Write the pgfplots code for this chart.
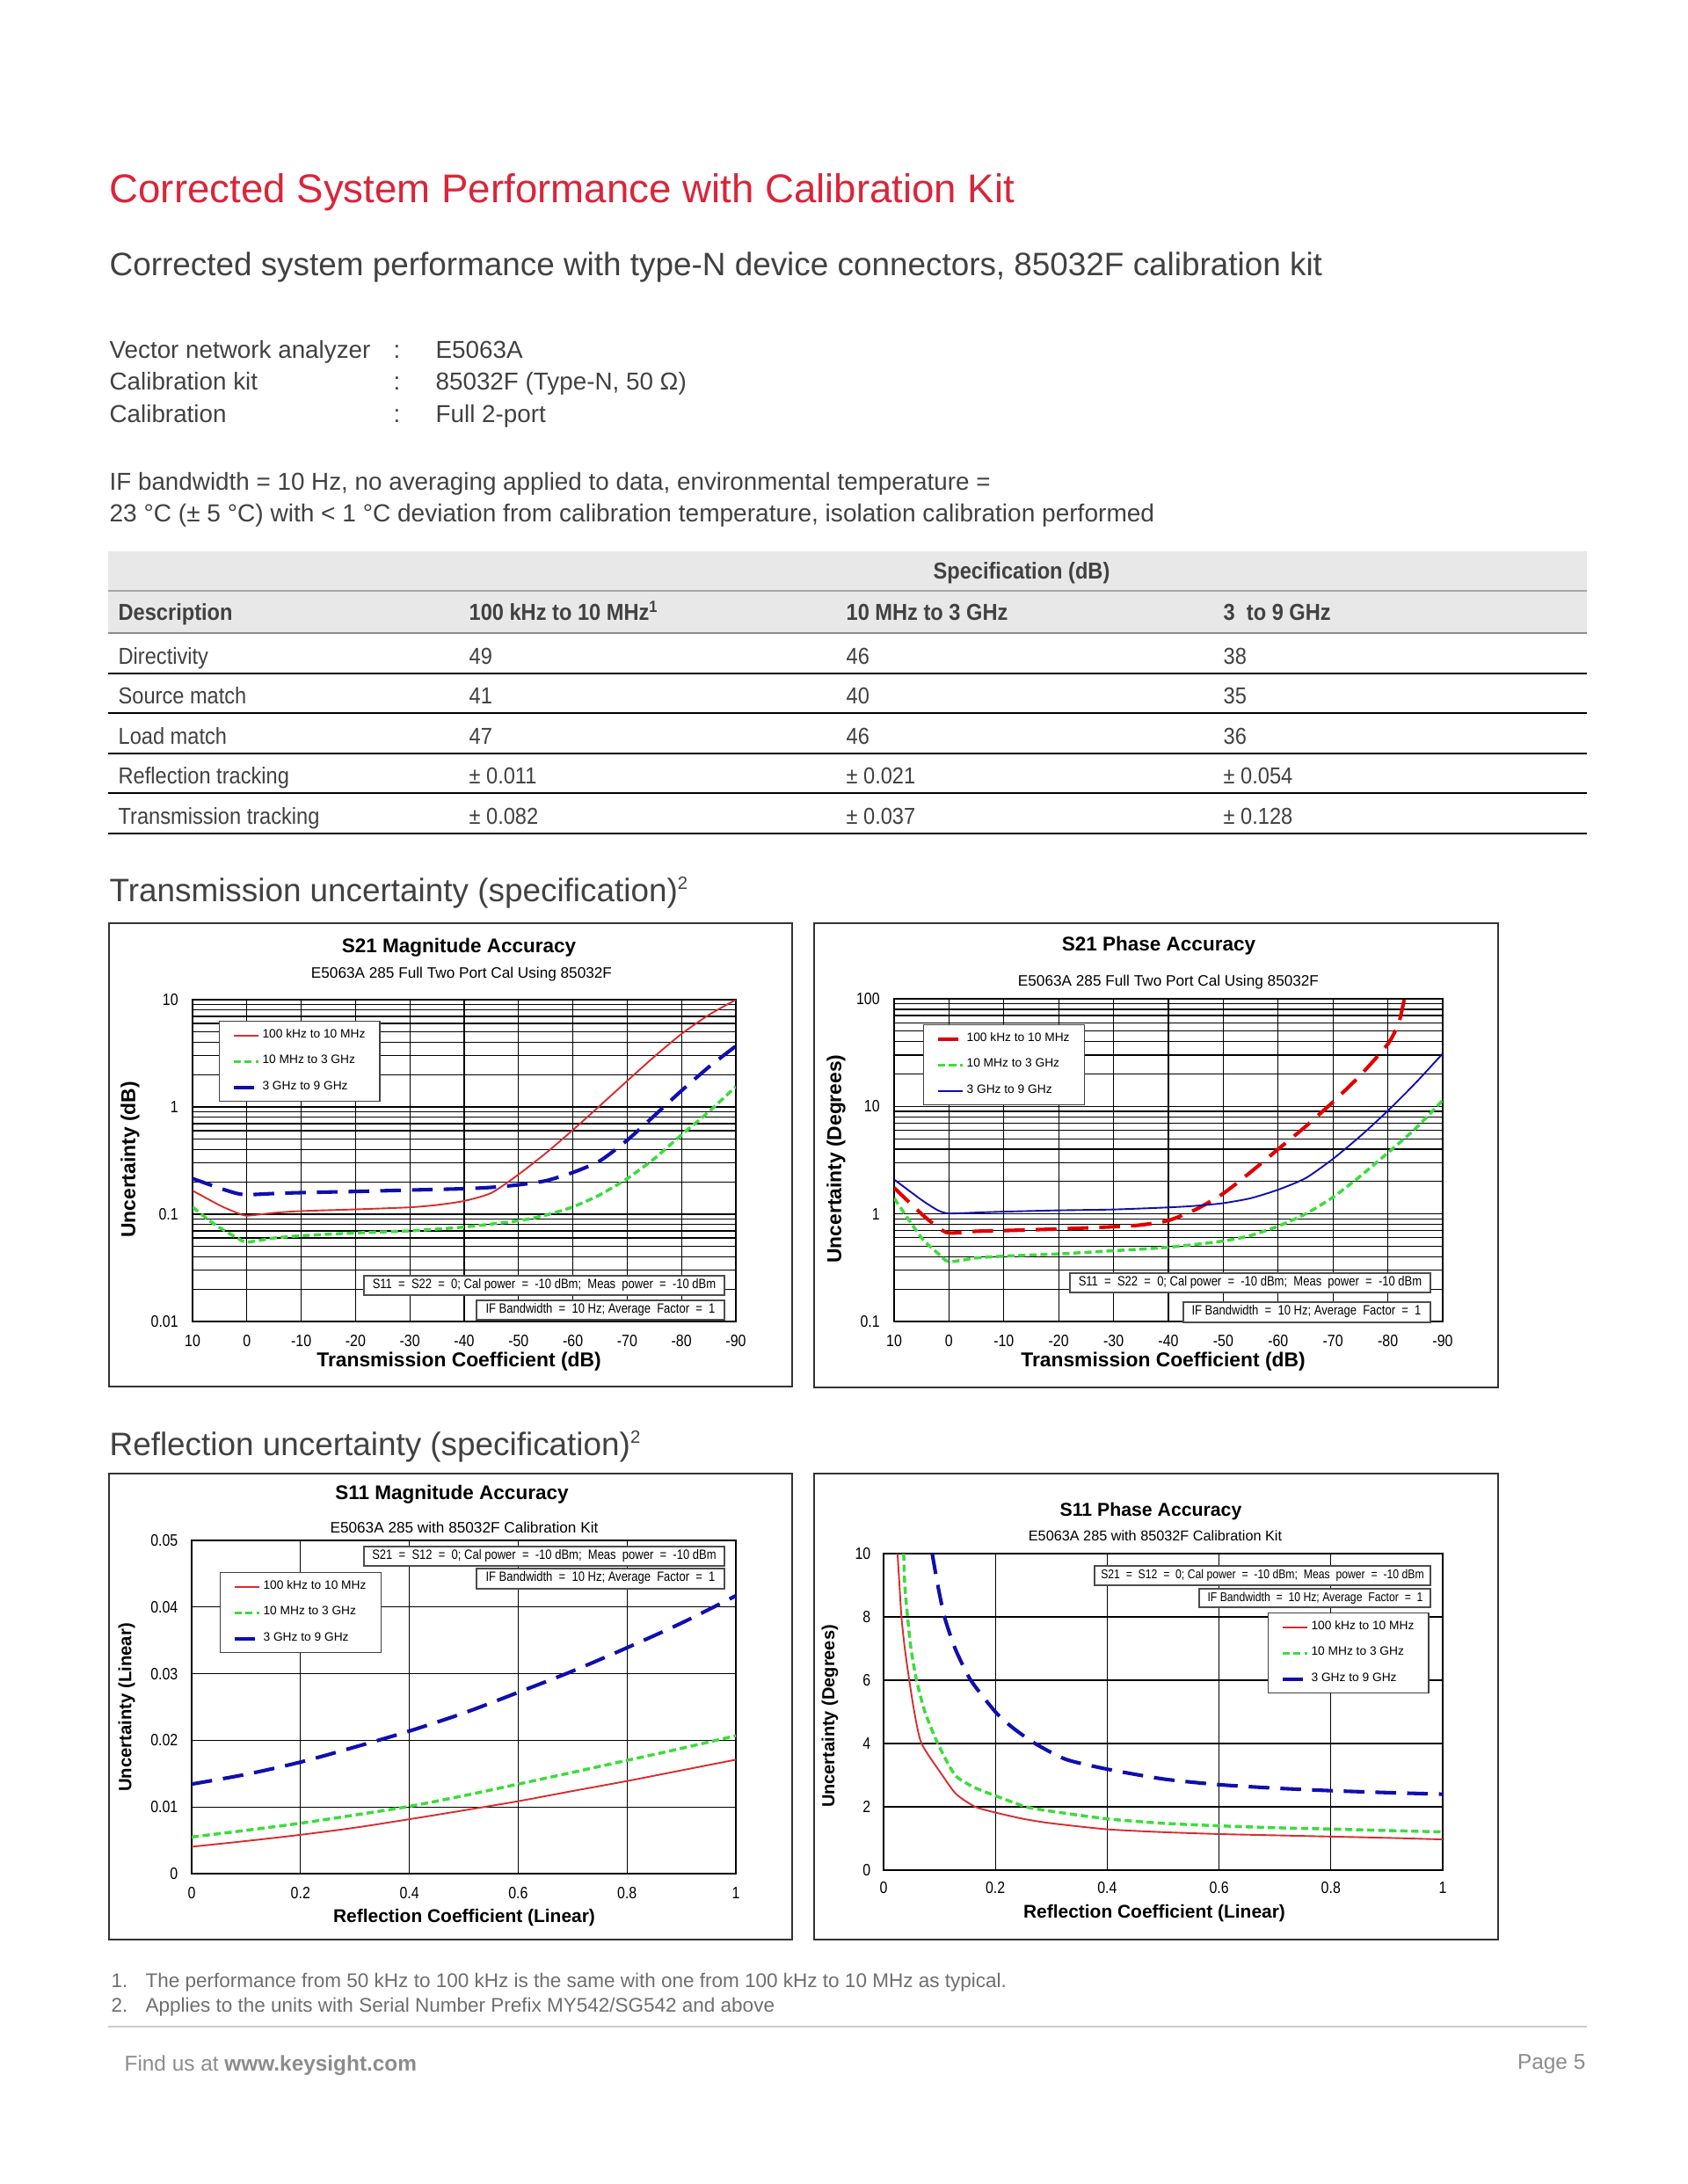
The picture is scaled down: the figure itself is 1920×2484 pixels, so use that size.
\documentclass[border=0pt]{standalone}
\usepackage{fontspec}
\usepackage{pgfplots}
\pgfplotsset{compat=1.18}
\setmainfont{Liberation Sans}
\newfontfamily\chartfont{Liberation Sans}
\newfontfamily\chartnarrow[FakeStretch=0.85]{Liberation Sans}
\newfontfamily\pagecond[FakeStretch=0.9]{Liberation Sans}
\definecolor{ksred}{RGB}{218,37,58}
\definecolor{cred}{RGB}{215,45,45}
\definecolor{cgreen}{RGB}{60,220,60}
\definecolor{cblue}{RGB}{15,15,175}
\definecolor{bodygray}{RGB}{65,65,65}
\definecolor{notegray}{RGB}{110,110,110}
\newcommand{\fs}[1]{\fontsize{#1}{#1}\selectfont}

\pgfplotsset{
  redsolid/.style={cred, line width=0.6bp},
  greendash/.style={cgreen, line width=1.1bp, dash pattern=on 2.6bp off 1.4bp},
  bluedash/.style={cblue, line width=1.3bp, dash pattern=on 7.5bp off 4bp},
  reddash/.style={red!88!black, line width=1.3bp, dash pattern=on 7.5bp off 4bp},
  bluesolid/.style={cblue, line width=0.6bp},
  chartaxis/.style={
    scale only axis,
    anchor=south west,
    axis line style={black, line width=0.5bp},
    major grid style={black, line width=0.4bp},
    minor grid style={black, line width=0.4bp},
    tick style={draw=none},
    major tick length=0pt, minor tick length=0pt,
    scaled ticks=false,
    ticklabel style={font=\chartnarrow\fs{6}, inner sep=0pt},
    legend cell align=left,
    legend style={draw=black!75, line width=0.4bp, font=\chartfont\fs{4.4},
      inner xsep=4.5bp, inner ysep=2bp, row sep=3.2bp,
      nodes={inner sep=0.8bp}},
    legend image code/.code={\draw[##1] (0bp,0bp) -- (9bp,0bp);},
  },
  xlabshift/.style={xticklabel style={anchor=center, yshift=#1}},
  ylabshift/.style={yticklabel style={anchor=east, xshift=#1}},
}

\begin{document}
\begin{tikzpicture}
\begin{scope}[x=0.31875bp,y=-0.31875bp]
\path[use as bounding box, fill=white] (0,0) rectangle (1920,2484);
% header
\node[anchor=base west, inner sep=0, text=ksred, font=\fs{14.6}] at (124,230) {Corrected System Performance with Calibration Kit};
\node[anchor=base west, inner sep=0, text=bodygray, font=\fs{11.8}] at (124,313) {Corrected system performance with type-N device connectors, 85032F calibration kit};
\begin{scope}[every node/.style={anchor=base west, inner sep=0, text=bodygray, font=\fs{8.9}}]
\node at (124,407) {Vector network analyzer};
\node at (124,443) {Calibration kit};
\node at (124,480) {Calibration};
\node at (447,407) {:};
\node at (447,443) {:};
\node at (447,480) {:};
\node at (495,407) {E5063A};
\node at (495,443) {85032F (Type-N, 50 Ω)};
\node at (495,480) {Full 2-port};
\node at (124,557) {IF bandwidth = 10 Hz, no averaging applied to data, environmental temperature =};
\node[font=\fs{8.98}] at (124,593) {23 °C (± 5 °C) with < 1 °C deviation from calibration temperature, isolation calibration performed};
\end{scope}
% table
\fill[black!9] (123,627) rectangle (1805,720);
\draw[black!35, line width=0.7bp] (123,672) -- (1805,672);
\draw[black!45, line width=0.8bp] (123,720) -- (1805,720);
\foreach \yy in {766,811,857,902,948} \draw[black, line width=0.6bp] (123,\yy) -- (1805,\yy);
\begin{scope}[every node/.style={inner sep=0, text=bodygray, font=\pagecond\bfseries\fs{8.4}}]
\node[anchor=base] at (1162,658) {Specification (dB)};
\node[anchor=base west] at (134,705) {Description};
\node[anchor=base west] at (533,705) {100 kHz to 10 MHz\textsuperscript{1}};
\node[anchor=base west] at (962,705) {10 MHz to 3 GHz};
\node[anchor=base west] at (1391,705) {3~ to 9 GHz};
\end{scope}
\begin{scope}[every node/.style={anchor=base west, inner sep=0, text=bodygray, font=\pagecond\fs{8.4}}]
\node at (134,755) {Directivity};      \node at (533,755) {49}; \node at (962,755) {46}; \node at (1391,755) {38};
\node at (134,800) {Source match};     \node at (533,800) {41}; \node at (962,800) {40}; \node at (1391,800) {35};
\node at (134,846) {Load match};       \node at (533,846) {47}; \node at (962,846) {46}; \node at (1391,846) {36};
\node at (134,891) {Reflection tracking};   \node at (533,891) {± 0.011}; \node at (962,891) {± 0.021}; \node at (1391,891) {± 0.054};
\node at (134,937) {Transmission tracking}; \node at (533,937) {± 0.082}; \node at (962,937) {± 0.037}; \node at (1391,937) {± 0.128};
\end{scope}
% section headers
\node[anchor=base west, inner sep=0, text=bodygray, font=\fs{11.8}] at (124,1025) {Transmission uncertainty (specification)\textsuperscript{\fs{6.5}2}};
\node[anchor=base west, inner sep=0, text=bodygray, font=\fs{11.8}] at (124,1655) {Reflection uncertainty (specification)\textsuperscript{\fs{6.5}2}};
% chart frames
\draw[black!80, line width=0.6bp] (124,1050) rectangle (901,1577);
\draw[black!80, line width=0.6bp] (926,1050) rectangle (1704,1578);
\draw[black!80, line width=0.6bp] (124,1676) rectangle (901,2206);
\draw[black!80, line width=0.6bp] (926,1676) rectangle (1704,2206);
% footnotes and footer
\begin{scope}[every node/.style={anchor=base west, inner sep=0, text=notegray, font=\fs{7.2}}]
\node at (126,2260) {1.};
\node at (165,2260) {The performance from 50 kHz to 100 kHz is the same with one from 100 kHz to 10 MHz as typical.};
\node at (126,2288) {2.};
\node at (165,2288) {Applies to the units with Serial Number Prefix MY542/SG542 and above};
\end{scope}
\draw[black!20, line width=0.7bp] (123,2305) -- (1805,2305);
\node[anchor=base west, inner sep=0, text=black!45, font=\fs{7.8}] at (141,2355) {Find us at \textbf{www.keysight.com}};
\node[anchor=base east, inner sep=0, text=black!45, font=\fs{7.8}] at (1804,2353) {Page 5};
\end{scope}

% ---------------- Chart 1: S21 magnitude
\begin{axis}[chartaxis, xlabshift=-7bp, ylabshift=-5bp,
  at={(69.81bp,-479.08bp)}, width=196.99bp, height=116.66bp,
  ymode=log, xmin=-90, xmax=10, x dir=reverse, ymin=0.01, ymax=10,
  xtick={10,0,-10,-20,-30,-40,-50,-60,-70,-80,-90},
  xticklabels={10,0,-10,-20,-30,-40,-50,-60,-70,-80,-90},
  ytick={0.01,0.1,1,10}, yticklabels={0.01,0.1,1,10},
  minor ytick={0.02,0.03,0.04,0.05,0.06,0.07,0.08,0.09,0.2,0.3,0.4,0.5,0.6,0.7,0.8,0.9,2,3,4,5,6,7,8,9},
  xmajorgrids, ymajorgrids, yminorgrids,
  legend style={at={(0.0485,0.934)}, anchor=north west}]
\addplot[redsolid, smooth, tension=0.4] coordinates {(10,0.166) (5,0.121) (2,0.104) (0,0.097) (-5,0.103) (-10,0.107) (-20,0.111) (-30,0.116) (-35,0.122) (-40,0.133) (-45,0.158) (-50,0.235) (-55,0.37) (-60,0.61) (-65,1.03) (-70,1.75) (-75,2.95) (-80,4.8) (-85,7.2) (-90,10)};
\addlegendentry{100 kHz to 10 MHz}
\addplot[greendash, smooth, tension=0.4] coordinates {(10,0.117) (7,0.088) (5,0.075) (2,0.061) (0,0.055) (-5,0.06) (-10,0.063) (-20,0.067) (-30,0.070) (-40,0.076) (-50,0.087) (-55,0.098) (-60,0.117) (-65,0.152) (-70,0.215) (-75,0.33) (-80,0.55) (-85,0.9) (-90,1.55)};
\addlegendentry{10 MHz to 3 GHz}
\addplot[bluedash, smooth, tension=0.4] coordinates {(10,0.215) (5,0.175) (2,0.157) (0,0.152) (-5,0.156) (-10,0.159) (-20,0.163) (-30,0.168) (-40,0.173) (-45,0.178) (-50,0.188) (-55,0.205) (-60,0.245) (-65,0.315) (-70,0.49) (-75,0.83) (-80,1.42) (-85,2.35) (-90,3.7)};
\addlegendentry{3 GHz to 9 GHz}
\end{axis}

% ---------------- Chart 2: S21 phase
\begin{axis}[chartaxis, xlabshift=-7bp, ylabshift=-5bp,
  at={(324.17bp,-479.08bp)}, width=198.90bp, height=116.98bp,
  ymode=log, xmin=-90, xmax=10, x dir=reverse, ymin=0.1, ymax=100,
  xtick={10,0,-10,-20,-30,-40,-50,-60,-70,-80,-90},
  xticklabels={10,0,-10,-20,-30,-40,-50,-60,-70,-80,-90},
  ytick={0.1,1,10,100}, yticklabels={0.1,1,10,100},
  minor ytick={0.2,0.3,0.4,0.5,0.6,0.7,0.8,0.9,2,3,4,5,6,7,8,9,20,30,40,50,60,70,80,90},
  xmajorgrids, ymajorgrids, yminorgrids,
  legend style={at={(0.053,0.921)}, anchor=north west}]
\addplot[reddash, smooth, tension=0.4] coordinates {(10,1.75) (5,1.0) (2,0.75) (0,0.665) (-5,0.69) (-10,0.70) (-20,0.725) (-30,0.76) (-35,0.79) (-40,0.87) (-45,1.1) (-50,1.55) (-55,2.45) (-60,4.0) (-65,6.5) (-70,11) (-75,19.5) (-80,38) (-82,60) (-83,100)};
\addlegendentry{100 kHz to 10 MHz}
\addplot[greendash, smooth, tension=0.4] coordinates {(10,1.4) (5,0.6) (2,0.43) (0,0.36) (-5,0.39) (-10,0.405) (-20,0.425) (-30,0.455) (-40,0.49) (-50,0.56) (-55,0.63) (-60,0.77) (-65,1.0) (-70,1.43) (-75,2.25) (-80,3.7) (-85,6.2) (-90,11.4)};
\addlegendentry{10 MHz to 3 GHz}
\addplot[bluesolid, smooth, tension=0.4] coordinates {(10,2.09) (5,1.35) (2,1.08) (0,1.01) (-5,1.03) (-10,1.05) (-20,1.08) (-30,1.10) (-40,1.15) (-45,1.19) (-50,1.26) (-55,1.4) (-60,1.68) (-65,2.15) (-70,3.25) (-75,5.3) (-80,9.1) (-85,16.4) (-90,31)};
\addlegendentry{3 GHz to 9 GHz}
\end{axis}

% ---------------- Chart 3: S11 magnitude
\begin{axis}[chartaxis, xlabshift=-7bp, ylabshift=-4.8bp,
  at={(69.49bp,-679.26bp)}, width=197.31bp, height=120.81bp,
  xmin=0, xmax=1, ymin=0, ymax=0.05,
  xtick={0,0.2,0.4,0.6,0.8,1}, xticklabels={0,0.2,0.4,0.6,0.8,1},
  ytick={0,0.01,0.02,0.03,0.04,0.05}, yticklabels={0,0.01,0.02,0.03,0.04,0.05},
  xmajorgrids, ymajorgrids,
  legend style={at={(0.0517,0.905)}, anchor=north west}]
\addplot[redsolid, smooth] coordinates {(0,0.00404) (0.1,0.0049) (0.2,0.00583) (0.3,0.0069) (0.4,0.00817) (0.5,0.0095) (0.6,0.01087) (0.7,0.0124) (0.8,0.0139) (0.9,0.0155) (1,0.0171)};
\addlegendentry{100 kHz to 10 MHz}
\addplot[greendash, smooth] coordinates {(0,0.0055) (0.1,0.0065) (0.2,0.00757) (0.3,0.0088) (0.4,0.0101) (0.5,0.0117) (0.6,0.01344) (0.7,0.0152) (0.8,0.017) (0.9,0.0188) (1,0.0207)};
\addlegendentry{10 MHz to 3 GHz}
\addplot[bluedash, smooth] coordinates {(0,0.01344) (0.1,0.0149) (0.2,0.01674) (0.3,0.019) (0.4,0.0214) (0.5,0.0241) (0.6,0.0272) (0.7,0.0304) (0.8,0.0339) (0.9,0.0376) (1,0.0417)};
\addlegendentry{3 GHz to 9 GHz}
\end{axis}

% ---------------- Chart 4: S11 phase
\begin{axis}[chartaxis, xlabshift=-6.4bp, ylabshift=-4.5bp,
  at={(320.34bp,-677.98bp)}, width=202.73bp, height=114.75bp,
  xmin=0, xmax=1, ymin=0, ymax=10,
  xtick={0,0.2,0.4,0.6,0.8,1}, xticklabels={0,0.2,0.4,0.6,0.8,1},
  ytick={0,2,4,6,8,10}, yticklabels={0,2,4,6,8,10},
  xmajorgrids, ymajorgrids,
  legend style={at={(0.976,0.814)}, anchor=north east}]
\addplot[redsolid, smooth, tension=0.4] coordinates {(0.025,10) (0.0285,9) (0.032,8) (0.038,7) (0.046,6) (0.055,5) (0.068,4) (0.105,3.0) (0.13,2.4) (0.164,2.0) (0.2,1.82) (0.25,1.62) (0.3,1.48) (0.4,1.29) (0.5,1.2) (0.6,1.14) (0.7,1.1) (0.8,1.06) (0.9,1.02) (1,0.97)};
\addlegendentry{100 kHz to 10 MHz}
\addplot[greendash, smooth, tension=0.4] coordinates {(0.036,10) (0.038,9) (0.043,8) (0.049,7) (0.059,6) (0.074,5) (0.097,4) (0.128,3.0) (0.164,2.6) (0.2,2.35) (0.255,2.0) (0.3,1.86) (0.4,1.62) (0.5,1.48) (0.6,1.40) (0.7,1.34) (0.8,1.30) (0.9,1.25) (1,1.21)};
\addlegendentry{10 MHz to 3 GHz}
\addplot[bluedash, smooth, tension=0.4] coordinates {(0.087,10) (0.097,9) (0.109,8) (0.128,7) (0.156,6) (0.2,5.0) (0.231,4.5) (0.271,4.0) (0.326,3.5) (0.4,3.19) (0.5,2.88) (0.6,2.70) (0.7,2.59) (0.8,2.51) (0.9,2.45) (1,2.40)};
\addlegendentry{3 GHz to 9 GHz}
\end{axis}

% ---------------- chart texts and annotation boxes
\begin{scope}[x=0.31875bp,y=-0.31875bp]
\begin{scope}[every node/.style={inner sep=0, font=\chartfont\bfseries\fs{7.2}}]
\node at (522,1078) {S21 Magnitude Accuracy};
\node at (1318,1076) {S21 Phase Accuracy};
\node at (514,1700) {S11 Magnitude Accuracy};
\node[font=\chartfont\bfseries\fs{6.8}] at (1309,1719) {S11 Phase Accuracy};
\end{scope}
\begin{scope}[every node/.style={inner sep=0, font=\chartfont\fs{5.5}}]
\node at (525,1108) {E5063A 285 Full Two Port Cal Using 85032F};
\node at (1329,1117) {E5063A 285 Full Two Port Cal Using 85032F};
\node at (528,1737) {E5063A 285 with 85032F Calibration Kit};
\node[font=\chartfont\fs{5.2}] at (1314,1747) {E5063A 285 with 85032F Calibration Kit};
\end{scope}
\begin{scope}[every node/.style={inner sep=0, font=\chartfont\bfseries\fs{7.3}}]
\node at (522,1549) {Transmission Coefficient (dB)};
\node at (1323,1549) {Transmission Coefficient (dB)};
\node[rotate=90] at (148,1319) {Uncertainty (dB)};
\node[rotate=90] at (951,1318) {Uncertainty (Degrees)};
\node[font=\chartfont\bfseries\fs{6.7}] at (528,2181) {Reflection Coefficient (Linear)};
\node[font=\chartfont\bfseries\fs{6.7}] at (1313,2176) {Reflection Coefficient (Linear)};
\node[rotate=90, font=\chartfont\bfseries\fs{6.5}] at (144,1942) {Uncertainty (Linear)};
\node[rotate=90, font=\chartfont\bfseries\fs{6.4}] at (944,1952) {Uncertainty (Degrees)};
\end{scope}
\begin{scope}[every node/.style={inner sep=0, font=\chartnarrow\fs{4.9}}]
\draw[black!70, fill=white, line width=0.4bp] (414,1451) rectangle (824,1473);
\node at (619,1462) {S11 ~=~ S22 ~=~ 0; Cal power ~=~ -10 dBm; ~Meas ~power ~=~ -10 dBm};
\draw[black!70, fill=white, line width=0.4bp] (542,1479) rectangle (824,1501);
\node at (683,1490) {IF Bandwidth ~=~ 10 Hz; Average ~Factor ~=~ 1};
\draw[black!70, fill=white, line width=0.4bp] (1217,1448) rectangle (1627,1470);
\node at (1422,1459) {S11 ~=~ S22 ~=~ 0; Cal power ~=~ -10 dBm; ~Meas ~power ~=~ -10 dBm};
\draw[black!70, fill=white, line width=0.4bp] (1346,1481) rectangle (1627,1504);
\node at (1486,1492) {IF Bandwidth ~=~ 10 Hz; Average ~Factor ~=~ 1};
\draw[black!70, fill=white, line width=0.4bp] (414,1759) rectangle (824,1781);
\node at (619,1770) {S21 ~=~ S12 ~=~ 0; Cal power ~=~ -10 dBm; ~Meas ~power ~=~ -10 dBm};
\draw[black!70, fill=white, line width=0.4bp] (542,1784) rectangle (824,1807);
\node at (683,1795) {IF Bandwidth ~=~ 10 Hz; Average ~Factor ~=~ 1};
\draw[black!70, fill=white, line width=0.4bp] (1245,1781) rectangle (1627,1803);
\node[font=\chartnarrow\fs{4.6}] at (1436,1792) {S21 ~=~ S12 ~=~ 0; Cal power ~=~ -10 dBm; ~Meas ~power ~=~ -10 dBm};
\draw[black!70, fill=white, line width=0.4bp] (1364,1807) rectangle (1627,1828);
\node[font=\chartnarrow\fs{4.6}] at (1496,1818) {IF Bandwidth ~=~ 10 Hz; Average ~Factor ~=~ 1};
\end{scope}
\end{scope}
\end{tikzpicture}
\end{document}
